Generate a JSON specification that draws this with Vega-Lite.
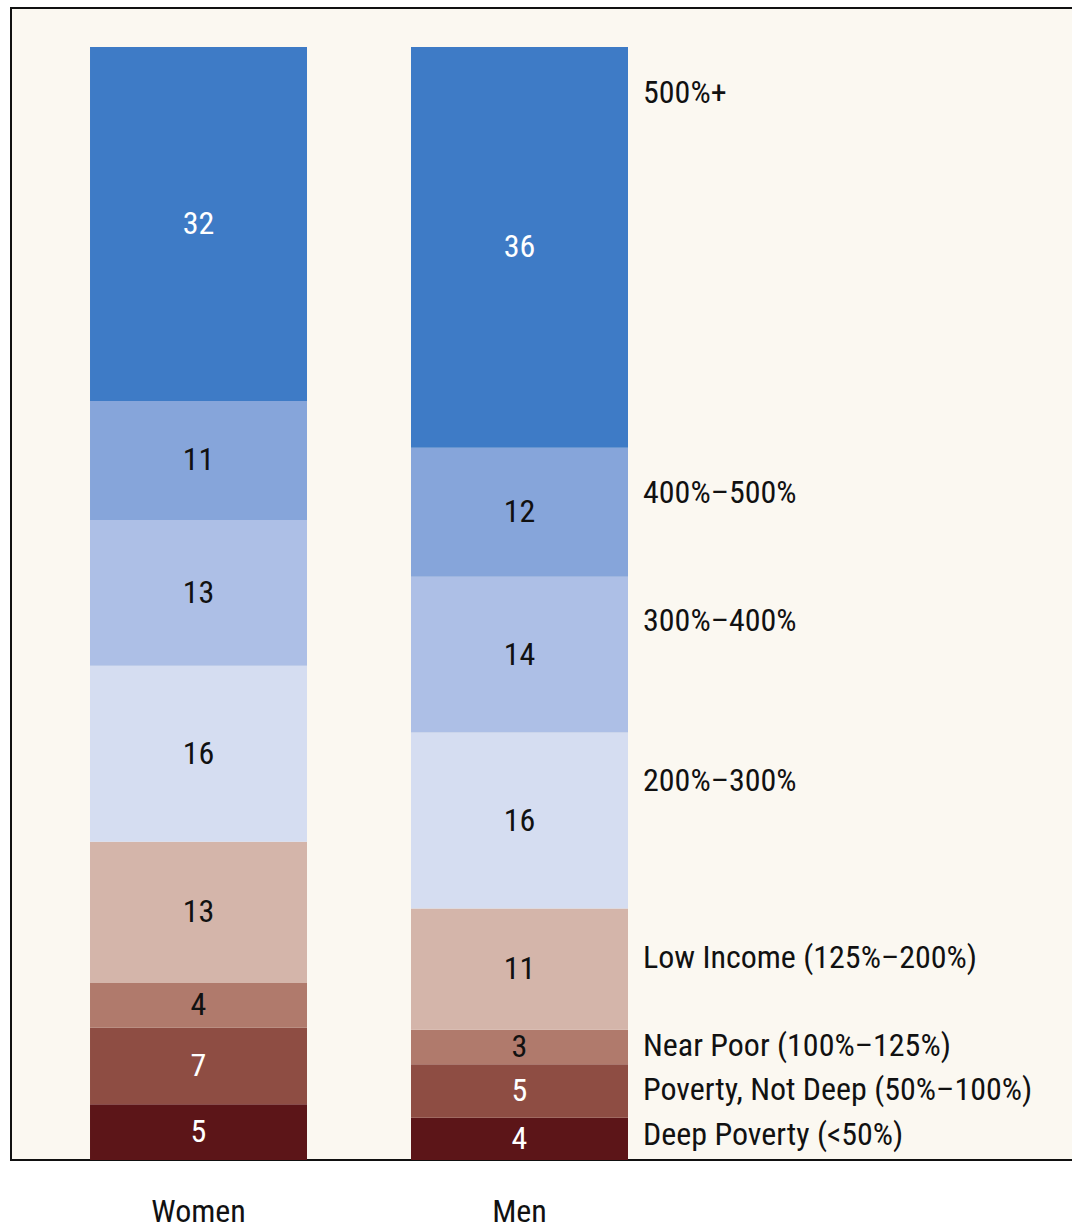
{
  "$schema": "https://vega.github.io/schema/vega-lite/v6.json",
  "width": 1063,
  "height": 1152,
  "autosize": {"type": "none"},
  "padding": {"left": 11, "top": 8, "right": 0, "bottom": 68},
  "background": "white",
  "config": {
    "view": {"fill": "#FBF8F1", "stroke": "#111111", "strokeWidth": 2},
    "font": "Roboto Condensed, Liberation Sans Narrow, DejaVu Sans Condensed, sans-serif",
    "text": {"font": "Roboto Condensed, Liberation Sans Narrow, DejaVu Sans Condensed, sans-serif"},
    "axis": {"labelFont": "Roboto Condensed, Liberation Sans Narrow, DejaVu Sans Condensed, sans-serif"}
  },
  "datasets": {
    "income": [
      {"sex": "Women", "category": "Deep Poverty (<50%)", "rank": 1, "pct": 5.0},
      {"sex": "Women", "category": "Poverty, Not Deep (50%–100%)", "rank": 2, "pct": 6.9},
      {"sex": "Women", "category": "Near Poor (100%–125%)", "rank": 3, "pct": 4.0},
      {"sex": "Women", "category": "Low Income (125%–200%)", "rank": 4, "pct": 12.7},
      {"sex": "Women", "category": "200%–300%", "rank": 5, "pct": 15.8},
      {"sex": "Women", "category": "300%–400%", "rank": 6, "pct": 13.1},
      {"sex": "Women", "category": "400%–500%", "rank": 7, "pct": 10.7},
      {"sex": "Women", "category": "500%+", "rank": 8, "pct": 31.8},
      {"sex": "Men", "category": "Deep Poverty (<50%)", "rank": 1, "pct": 3.8},
      {"sex": "Men", "category": "Poverty, Not Deep (50%–100%)", "rank": 2, "pct": 4.8},
      {"sex": "Men", "category": "Near Poor (100%–125%)", "rank": 3, "pct": 3.1},
      {"sex": "Men", "category": "Low Income (125%–200%)", "rank": 4, "pct": 10.9},
      {"sex": "Men", "category": "200%–300%", "rank": 5, "pct": 15.8},
      {"sex": "Men", "category": "300%–400%", "rank": 6, "pct": 14.0},
      {"sex": "Men", "category": "400%–500%", "rank": 7, "pct": 11.6},
      {"sex": "Men", "category": "500%+", "rank": 8, "pct": 36.0}
    ],
    "labels": [
      {"sex": "Men", "label": "500%+", "pos": 95.85},
      {"sex": "Men", "label": "400%–500%", "pos": 59.95},
      {"sex": "Men", "label": "300%–400%", "pos": 48.45},
      {"sex": "Men", "label": "200%–300%", "pos": 34.05},
      {"sex": "Men", "label": "Low Income (125%–200%)", "pos": 18.15},
      {"sex": "Men", "label": "Near Poor (100%–125%)", "pos": 10.25},
      {"sex": "Men", "label": "Poverty, Not Deep (50%–100%)", "pos": 6.25},
      {"sex": "Men", "label": "Deep Poverty (<50%)", "pos": 2.25}
    ]
  },
  "layer": [
    {
      "data": {"name": "income"},
      "transform": [
        {"stack": "pct", "groupby": ["sex"], "sort": [{"field": "rank", "order": "ascending"}], "as": ["y0", "y1"]},
        {"calculate": "(datum.y0 + datum.y1) / 2", "as": "ymid"}
      ],
      "layer": [
        {
          "mark": {"type": "bar"},
          "encoding": {
            "x": {
              "field": "sex", "type": "nominal",
              "scale": {"domain": ["Women", "Men"], "paddingInner": 0.324, "paddingOuter": 0.8178, "align": 0.1505, "round": false},
              "axis": {"title": null, "labelAngle": 0, "labelFontSize": 32, "labelColor": "#111111", "ticks": false, "domain": false, "labelPadding": 36}
            },
            "y": {"field": "y0", "type": "quantitative", "scale": {"domain": [0, 103.5], "nice": false, "zero": true}, "axis": null},
            "y2": {"field": "y1"},
            "color": {
              "field": "category", "type": "nominal", "legend": null,
              "scale": {
                "domain": ["Deep Poverty (<50%)", "Poverty, Not Deep (50%–100%)", "Near Poor (100%–125%)", "Low Income (125%–200%)", "200%–300%", "300%–400%", "400%–500%", "500%+"],
                "range": ["#5C1518", "#8E4D43", "#B07A6C", "#D4B5AA", "#D5DDF1", "#ADBFE6", "#86A5DA", "#3E7BC6"]
              }
            }
          }
        },
        {
          "mark": {"type": "text", "fontSize": 32, "baseline": "middle", "align": "center"},
          "encoding": {
            "x": {"field": "sex", "type": "nominal", "axis": {"title": null, "labelAngle": 0, "labelFontSize": 32, "labelColor": "#111111", "ticks": false, "domain": false, "labelPadding": 36}},
            "y": {"field": "ymid", "type": "quantitative", "axis": null},
            "text": {"field": "pct", "type": "quantitative", "format": ".0f"},
            "color": {"condition": {"test": "datum.rank <= 2 || datum.rank == 8", "value": "white"}, "value": "#111111"}
          }
        }
      ]
    },
    {
      "data": {"name": "labels"},
      "mark": {"type": "text", "fontSize": 32, "baseline": "middle", "align": "left", "dx": 15, "color": "#111111"},
      "encoding": {
        "x": {"field": "sex", "type": "nominal", "bandPosition": 1, "axis": {"title": null, "labelAngle": 0, "labelFontSize": 32, "labelColor": "#111111", "ticks": false, "domain": false, "labelPadding": 36}},
        "y": {"field": "pos", "type": "quantitative", "axis": null},
        "text": {"field": "label", "type": "nominal"}
      }
    }
  ]
}
